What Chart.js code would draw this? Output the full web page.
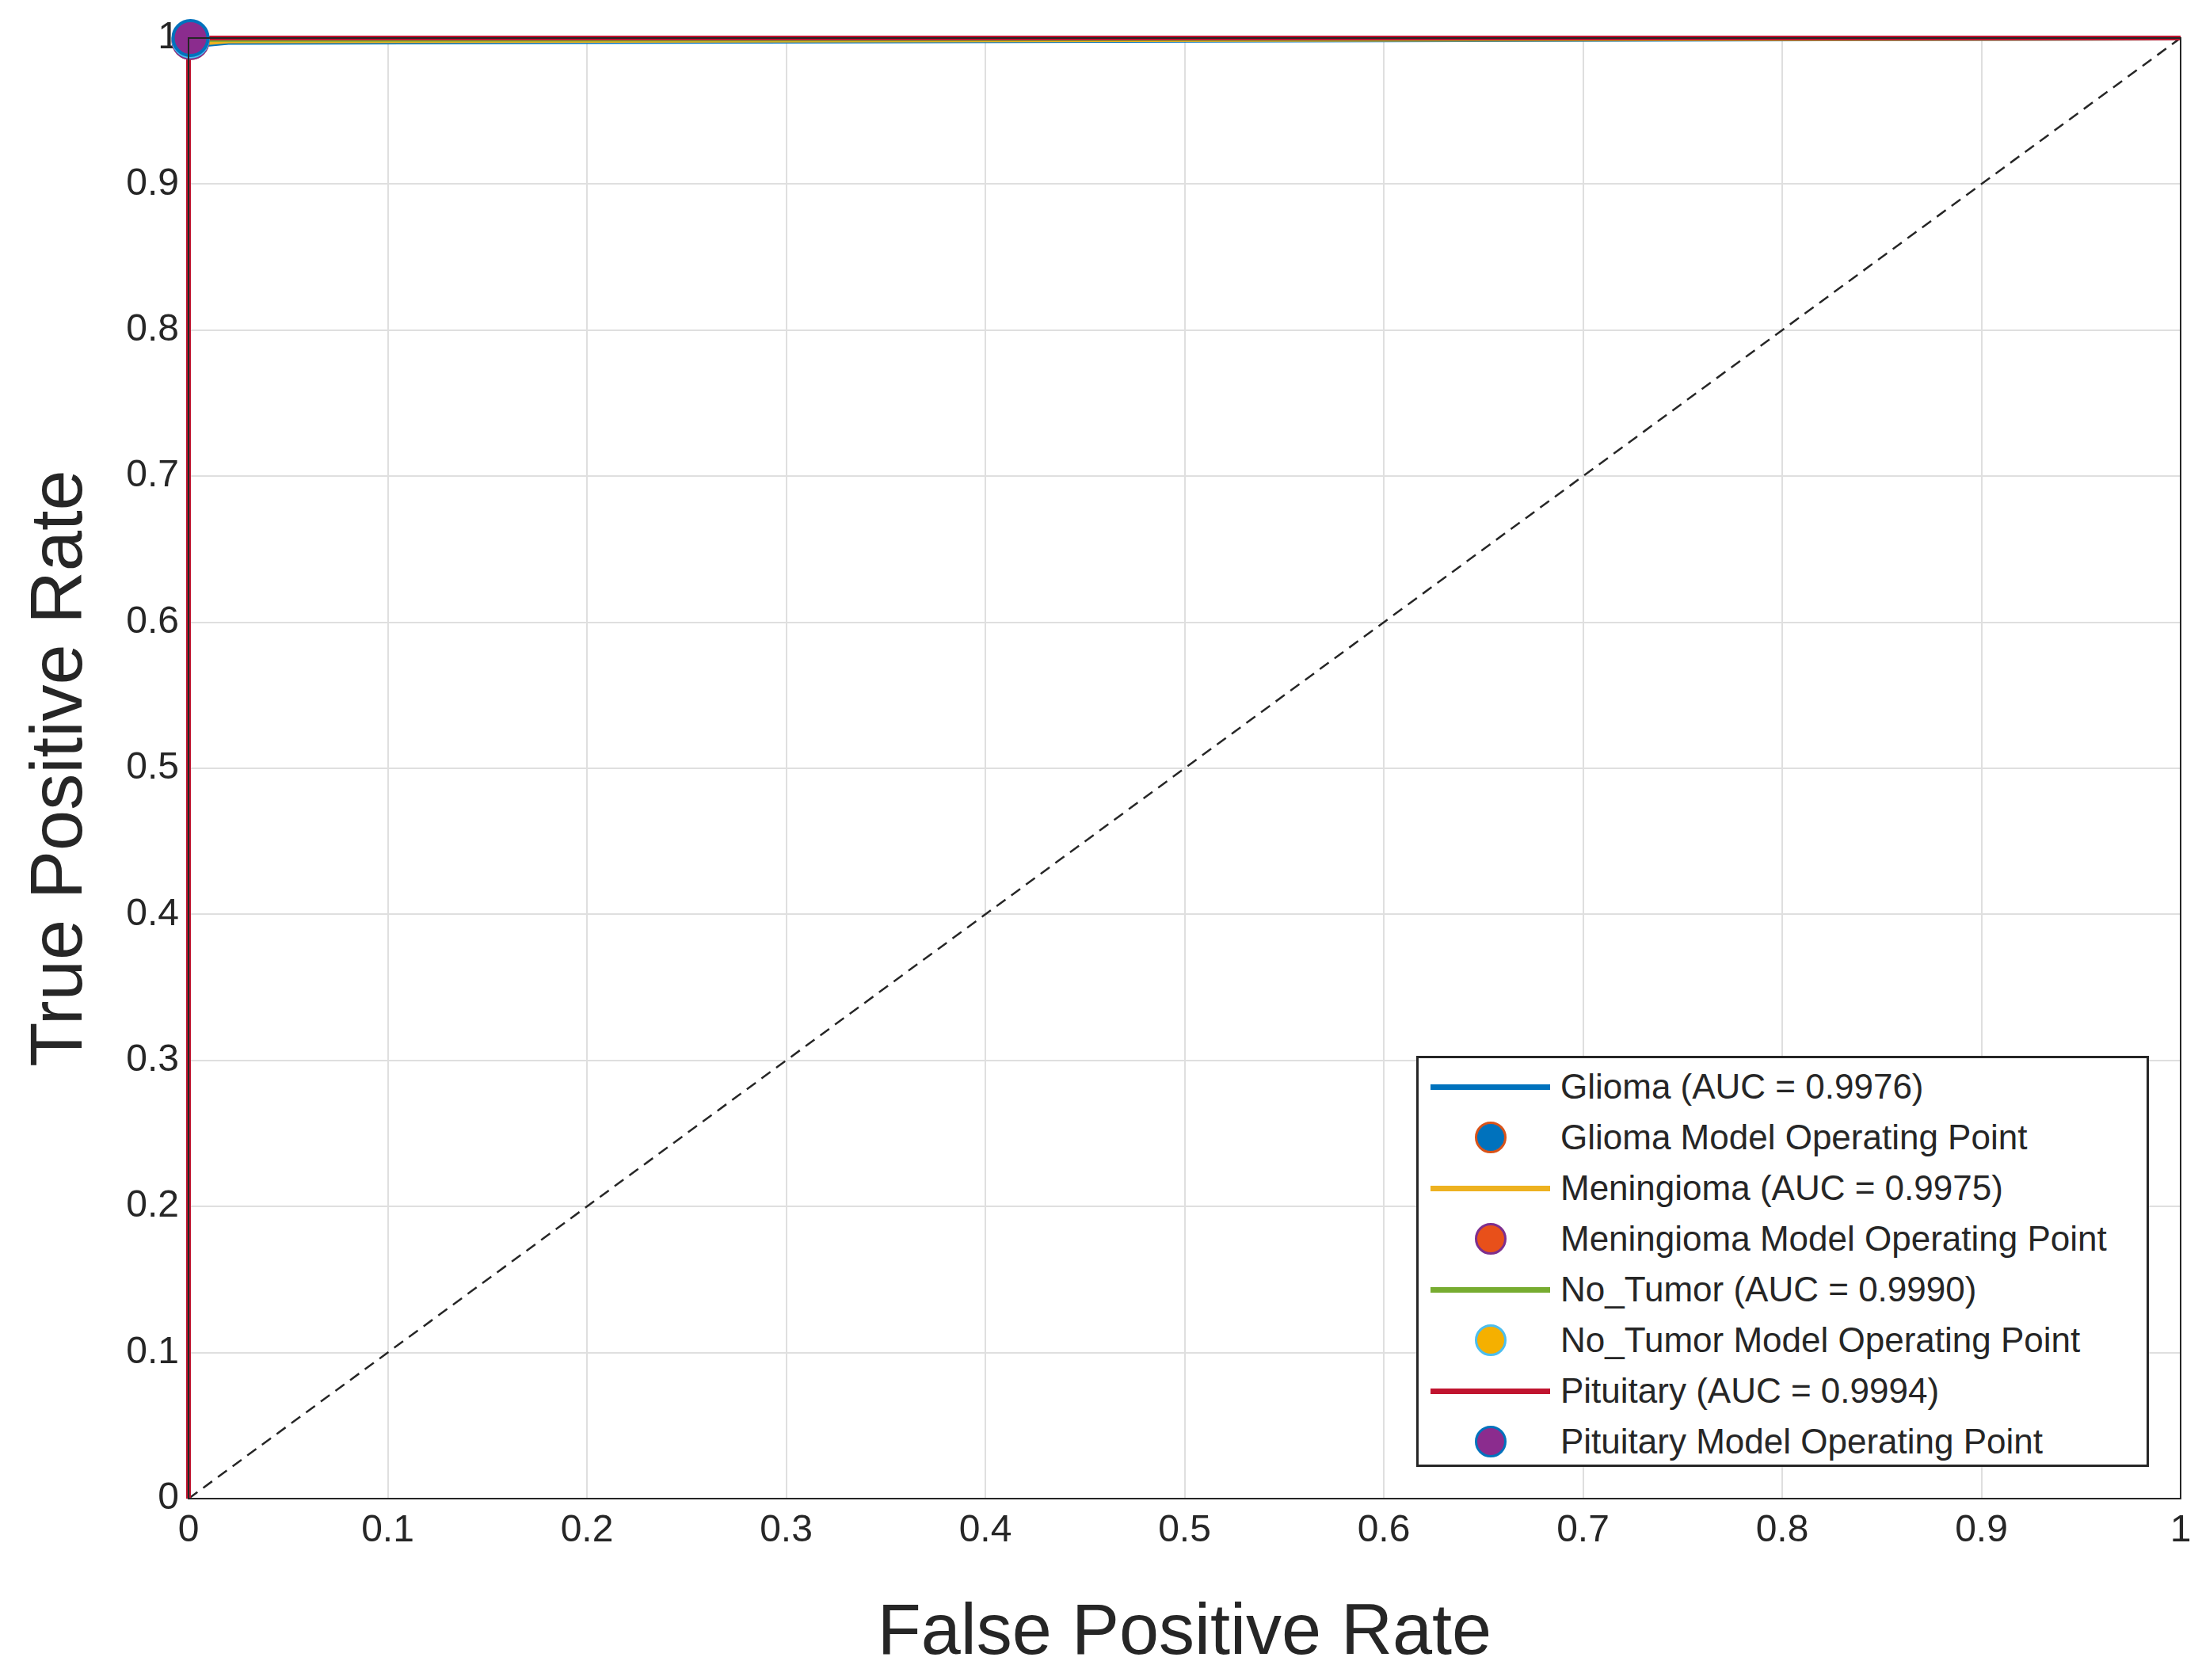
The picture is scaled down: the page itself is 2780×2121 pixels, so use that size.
<!DOCTYPE html>
<html>
<head>
<meta charset="utf-8">
<script src="https://cdn.jsdelivr.net/npm/chart.js@4"></script>
<style>
  html, body { margin: 0; padding: 0; background: #fff; }
  #wrap { position: relative; width: 2780px; height: 2121px; }
  #legend {
    position: absolute; left: 1788px; top: 1333px; width: 925px; height: 519px;
    border: 3px solid #262626; background: #fff; box-sizing: border-box;
    font-family: "Liberation Sans", Arial, sans-serif; font-size: 44px; color: #262626;
  }
  .row { position: absolute; left: 0; height: 64px; display: flex; align-items: center; }
  .sample { width: 151px; margin-left: 15px; display: flex; justify-content: center; align-items: center; }
  .line { width: 151px; height: 7px; }
  .dot { width: 40px; height: 40px; border-radius: 50%; box-sizing: border-box; border: 3px solid; }
  .txt { margin-left: 13px; white-space: nowrap; }
</style>
</head>
<body>
<div id="wrap">
  <canvas id="roc" width="2780" height="2121"></canvas>
  <div id="legend"></div>
</div>
<script>
// ROC curves (all hug the top-left corner)
const classNames = ['Glioma', 'Meningioma', 'No_Tumor', 'Pituitary'];
const aucValues = ['0.9976', '0.9975', '0.9990', '0.9994'];
const curveFpr = [
  [0, 0, 0.004, 0.02, 1],
  [0, 0, 0.003, 0.02, 1],
  [0, 0, 0.002, 0.01, 1],
  [0, 0, 0.001, 0.005, 1]
];
const curveTpr = [
  [0, 0.992, 0.995, 0.997, 1],
  [0, 0.994, 0.996, 0.998, 1],
  [0, 0.996, 0.998, 0.999, 1],
  [0, 0.998, 1, 1, 1]
];
const opFpr = [0.001, 0.001, 0.001, 0.001];
const opTpr = [0.998, 0.998, 0.999, 1];
const tickValues = [0, 0.1, 0.2, 0.3, 0.4, 0.5, 0.6, 0.7, 0.8, 0.9, 1];

const lineColors = ['#0072BD', '#EDB120', '#77AC30', '#C0142F'];
const dotFill = ['#0072BD', '#E8501A', '#F5B000', '#8B2C8E'];
const dotEdge = ['#D95319', '#7E2F8E', '#4DBEEE', '#0072BD'];

const datasets = [{
  data: [{x: 0, y: 0}, {x: 1, y: 1}],
  borderColor: '#262626', borderWidth: 2.5, borderDash: [14, 9],
  pointRadius: 0, showLine: true, order: 10
}];
classNames.forEach((n, i) => {
  datasets.push({
    data: curveFpr[i].map((x, k) => ({x: x, y: curveTpr[i][k]})),
    borderColor: lineColors[i], borderWidth: 6, pointRadius: 0,
    showLine: true, order: 5 - i
  });
});
classNames.forEach((n, i) => {
  datasets.push({
    data: [{x: opFpr[i], y: opTpr[i]}],
    backgroundColor: dotFill[i], borderColor: dotEdge[i], borderWidth: 4,
    pointRadius: 22, showLine: false, order: 1 - i * 0.1
  });
});

const boxPlugin = {
  id: 'box',
  afterDraw(chart) {
    const a = chart.chartArea, c = chart.ctx;
    c.save();
    c.strokeStyle = '#262626'; c.lineWidth = 2;
    c.strokeRect(a.left, a.top, a.right - a.left, a.bottom - a.top);
    c.restore();
  }
};

const tickFont = { family: 'Liberation Sans', size: 48 };
new Chart(document.getElementById('roc'), {
  type: 'scatter',
  data: { datasets: datasets },
  plugins: [boxPlugin],
  options: {
    responsive: false, animation: false, devicePixelRatio: 1,
    clip: false,
    layout: { padding: { top: 48, right: 27, left: 18 } },
    plugins: { legend: { display: false }, tooltip: { enabled: false } },
    scales: {
      x: {
        type: 'linear', min: 0, max: 1,
        afterBuildTicks: ax => { ax.ticks = tickValues.map(v => ({value: v})); },
        afterFit: ax => { ax.height = 229; },
        ticks: { font: tickFont, color: '#262626', padding: 12, maxRotation: 0,
                 callback: v => String(v) },
        grid: { color: '#dfdfdf', lineWidth: 2, drawTicks: false },
        border: { color: '#262626', width: 2 },
        title: { display: true, text: 'False Positive Rate', color: '#262626',
                 font: { family: 'Liberation Sans', size: 90 }, padding: { top: 0 } }
      },
      y: {
        type: 'linear', min: 0, max: 1,
        afterBuildTicks: ax => { ax.ticks = tickValues.map(v => ({value: v})); },
        afterFit: ax => { ax.width = 220; },
        ticks: { font: tickFont, color: '#262626', padding: 12,
                 callback: v => String(v) },
        grid: { color: '#dfdfdf', lineWidth: 2, drawTicks: false },
        border: { color: '#262626', width: 2 },
        title: { display: true, text: 'True Positive Rate', color: '#262626',
                 font: { family: 'Liberation Sans', size: 92 }, padding: { bottom: 4 } }
      }
    }
  }
});

// legend as real text
const leg = document.getElementById('legend');
let rowIdx = 0;
classNames.forEach((n, i) => {
  const r1 = document.createElement('div');
  r1.className = 'row'; r1.style.top = (4 + rowIdx++ * 64) + 'px';
  r1.innerHTML = '<div class="sample"><div class="line" style="background:' + lineColors[i] +
    '"></div></div><div class="txt">' + n + ' (AUC = ' + aucValues[i] + ')</div>';
  leg.appendChild(r1);
  const r2 = document.createElement('div');
  r2.className = 'row'; r2.style.top = (4 + rowIdx++ * 64) + 'px';
  r2.innerHTML = '<div class="sample"><div class="dot" style="background:' + dotFill[i] +
    ';border-color:' + dotEdge[i] + '"></div></div><div class="txt">' + n + ' Model Operating Point</div>';
  leg.appendChild(r2);
});
</script>
</body>
</html>
